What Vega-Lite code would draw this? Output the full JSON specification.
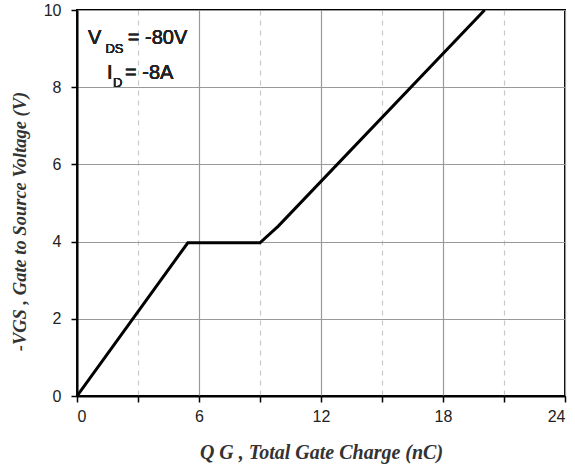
{
  "$schema": "https://vega.github.io/schema/vega-lite/v6.json",
  "autosize": "none",
  "width": 488,
  "height": 386,
  "padding": {"left": 77, "top": 10, "right": 10, "bottom": 71},
  "background": "white",
  "config": {
    "view": {"stroke": "black", "strokeWidth": 2},
    "axis": {"labelFont": "Liberation Sans", "labelFontSize": 16, "labelColor": "#222", "domainColor": "black", "domainWidth": 2, "tickColor": "black", "tickWidth": 1.5}
  },
  "data": {"values": [
    {"q": 0, "v": 0},
    {"q": 5.45, "v": 3.97},
    {"q": 9.0, "v": 3.97},
    {"q": 9.9, "v": 4.4},
    {"q": 20.05, "v": 10}
  ]},
  "layer": [
    {
      "mark": {"type": "line", "color": "black", "strokeWidth": 3, "clip": true},
      "encoding": {
        "x": {"field": "q", "type": "quantitative", "scale": {"domain": [0, 24], "nice": false},
          "axis": {"values": [0,3,6,9,12,15,18,21,24], "labelExpr": "datum.value % 6 === 0 ? datum.label : ''",
            "grid": true,
            "gridColor": {"condition": {"test": "datum.value % 6 === 0", "value": "#999"}, "value": "#c8c8c8"},
            "gridDash": {"condition": {"test": "datum.value % 6 === 0", "value": []}, "value": [5, 5]},
            "gridWidth": 1.2, "tickSize": 6, "labelPadding": 6,
            "title": "Q  G , Total Gate Charge (nC)", "titleFont": "Liberation Serif", "titleFontStyle": "italic", "titleFontWeight": "bold", "titleFontSize": 20, "titleColor": "#333", "titleBaseline": "alphabetic", "titleY": 62}},
        "y": {"field": "v", "type": "quantitative", "scale": {"domain": [0, 10], "nice": false},
          "axis": {"values": [0,1,2,3,4,5,6,7,8,9,10], "labelExpr": "datum.value % 2 === 0 ? datum.label : ''",
            "grid": true,
            "gridColor": {"condition": {"test": "datum.value % 2 === 0", "value": "#999"}, "value": "#c8c8c8"},
            "gridDash": {"condition": {"test": "datum.value % 2 === 0", "value": []}, "value": [5, 5]},
            "gridWidth": 1.2, "tickSize": 6, "labelPadding": 10,
            "title": "-VGS , Gate to Source Voltage (V)", "titleFont": "Liberation Serif", "titleFontStyle": "italic", "titleFontWeight": "bold", "titleFontSize": 18.5, "titleColor": "#333", "titleBaseline": "middle", "titleX": -58, "titleY": 211}}
      }
    },
    {"mark": {"type": "text", "font": "Liberation Sans", "fontWeight": "normal", "fontSize": 20, "align": "left", "baseline": "alphabetic", "color": "#222", "text": "V"},
      "encoding": {"x": {"datum": 0.54}, "y": {"datum": 9.12}}},
    {"mark": {"type": "text", "font": "Liberation Sans", "fontWeight": "normal", "fontSize": 13, "align": "left", "baseline": "alphabetic", "color": "#222", "text": "DS"},
      "encoding": {"x": {"datum": 1.4}, "y": {"datum": 8.89}}},
    {"mark": {"type": "text", "font": "Liberation Sans", "fontWeight": "normal", "fontSize": 20, "align": "left", "baseline": "alphabetic", "color": "#222", "text": "= -80V"},
      "encoding": {"x": {"datum": 2.5}, "y": {"datum": 9.12}}},
    {"mark": {"type": "text", "font": "Liberation Sans", "fontWeight": "normal", "fontSize": 20, "align": "left", "baseline": "alphabetic", "color": "#222", "text": "I"},
      "encoding": {"x": {"datum": 1.47}, "y": {"datum": 8.21}}},
    {"mark": {"type": "text", "font": "Liberation Sans", "fontWeight": "normal", "fontSize": 13, "align": "left", "baseline": "alphabetic", "color": "#222", "text": "D"},
      "encoding": {"x": {"datum": 1.77}, "y": {"datum": 8.0}}},
    {"mark": {"type": "text", "font": "Liberation Sans", "fontWeight": "normal", "fontSize": 20, "align": "left", "baseline": "alphabetic", "color": "#222", "text": "= -8A"},
      "encoding": {"x": {"datum": 2.36}, "y": {"datum": 8.21}}}
  ]
}
